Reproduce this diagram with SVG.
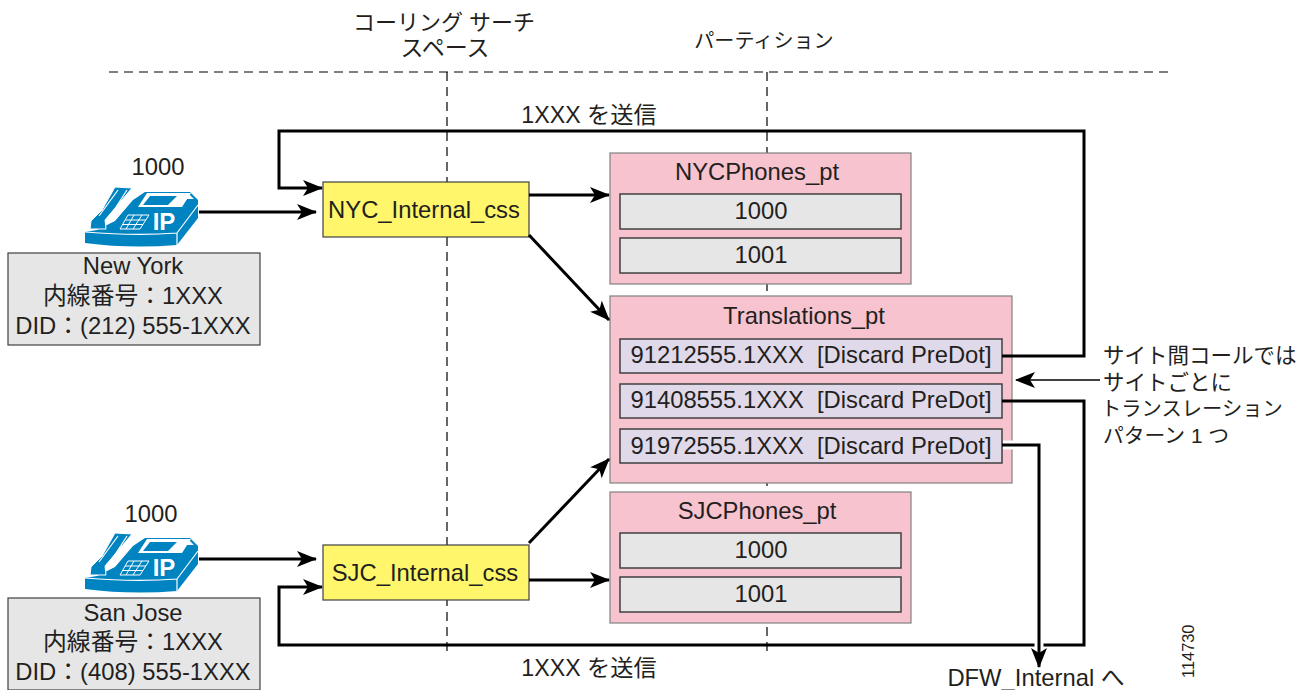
<svg xmlns="http://www.w3.org/2000/svg" width="1307" height="690" viewBox="0 0 1307 690">
<style>
text{font-family:"Liberation Sans","Noto Sans CJK JP",sans-serif;font-size:23.8px;fill:#231f20;text-anchor:middle;white-space:pre}
.l{text-anchor:start}
.pink{fill:#f7c3cf;stroke:#808080;stroke-width:1.2}
.gray{fill:#e6e6e6;stroke:#404040;stroke-width:1.5}
.lav{fill:#e0d9ea;stroke:#404040;stroke-width:1.5}
.yel{fill:#fff66b;stroke:#404040;stroke-width:1.2}
.info{fill:#e6e6e6;stroke:#404040;stroke-width:1.2}
.c{fill:none;stroke:#000;stroke-width:3}
.d{fill:none;stroke:#000;stroke-width:1.2;stroke-dasharray:9 6}
.ph{fill:#0083c1}
.w{fill:none;stroke:#fff;stroke-width:1.2}
</style>
<defs>
<marker id="a" markerUnits="userSpaceOnUse" markerWidth="20" markerHeight="16" refX="19" refY="8" orient="auto"><path d="M0 0L20 8L0 16L5 8Z" fill="#000"/></marker>
<g id="phone">
<path class="ph" d="M0 46V57Q45 63 92 59L113 32V14L105 6H60L48 14L30 35L12 44Z"/>
<path class="ph" d="M30 1L47 2L20 34L21 43H5L6 35L17 24Z" stroke="#fff" stroke-width="1"/>
<path class="w" d="M0 46Q50 50 92 47L113 19M92 47V59"/>
<path class="w" d="M33 4L14 30M42 4L24 32"/>
<path d="M62 7H106L97 21H53Z" fill="#fff"/>
<path d="M65 10H92L83 19H58Z" class="ph"/>
<path d="M48 3L54 10H44ZM104 8L109 13H100Z" fill="#fff"/>
<path d="M35 43L43 29H64L55 43ZM40 34H61M37 38.500H58M49 29L41 43M57 29L48 43" fill="none" stroke="#fff" stroke-width="1"/>
<text x="79" y="44" style="font-size:24px;font-weight:bold;fill:#fff">IP</text>
</g>
</defs>

<g id="guides">
<path class="d" d="M109 72H1170"/>
<path class="d" d="M447 72V652M767 72V652"/>
</g>

<g id="labels">
<text x="444" y="30" style="font-size:22px">コーリング サーチ</text>
<text x="445" y="56" style="font-size:23px">スペース</text>
<text x="764" y="48" style="font-size:20.100px">パーティション</text>
<text x="589" y="123" style="font-size:23.200px">1XXX を送信</text>
<text x="589" y="676" style="font-size:23.200px">1XXX を送信</text>
<text x="1036" y="686">DFW_Internal へ</text>
<text class="l" x="1103" y="363" style="font-size:21.500px">サイト間コールでは</text>
<text class="l" x="1103" y="390" style="font-size:21.500px">サイトごとに</text>
<text class="l" x="1101" y="416" style="font-size:20.300px">トランスレーション</text>
<text class="l" x="1103" y="443" style="font-size:20.800px">パターン 1 つ</text>
<text transform="translate(1194 678) rotate(-90)" class="l" style="font-size:16.400px">114730</text>
</g>

<g id="phone-ny"><use href="#phone" x="85" y="186"/><text x="158" y="175">1000</text></g>
<g id="info-ny">
<rect class="info" x="8" y="253" width="252" height="92"/>
<text x="133" y="274">New York</text>
<text x="133" y="304">内線番号：1XXX</text>
<text x="133" y="334">DID：(212) 555-1XXX</text>
</g>
<g id="phone-sj"><use href="#phone" x="85" y="532"/><text x="151" y="522">1000</text></g>
<g id="info-sj">
<rect class="info" x="8" y="598" width="252" height="92"/>
<text x="133" y="621">San Jose</text>
<text x="133" y="650">内線番号：1XXX</text>
<text x="133" y="680">DID：(408) 555-1XXX</text>
</g>

<g id="nyc-css"><rect class="yel" x="323" y="182" width="206" height="55"/><text x="424" y="218">NYC_Internal_css</text></g>
<g id="sjc-css"><rect class="yel" x="323" y="545" width="206" height="55"/><text x="425" y="581">SJC_Internal_css</text></g>

<g id="nyc-pt">
<rect class="pink" x="610" y="153" width="301" height="131"/>
<text x="757" y="180">NYCPhones_pt</text>
<rect class="gray" x="620" y="194" width="281" height="35"/><text x="761" y="219">1000</text>
<rect class="gray" x="620" y="238" width="281" height="35"/><text x="761" y="263">1001</text>
</g>
<g id="trans-pt">
<rect class="pink" x="610" y="296" width="402" height="187"/>
<text x="804" y="324">Translations_pt</text>
<rect class="lav" x="620" y="339" width="382" height="34"/><text x="811" y="363">91212555.1XXX  [Discard PreDot]</text>
<rect class="lav" x="620" y="384" width="382" height="34"/><text x="811" y="408">91408555.1XXX  [Discard PreDot]</text>
<rect class="lav" x="620" y="429" width="382" height="34"/><text x="811" y="454">91972555.1XXX  [Discard PreDot]</text>
</g>
<g id="sjc-pt">
<rect class="pink" x="610" y="492" width="301" height="131"/>
<text x="757" y="519">SJCPhones_pt</text>
<rect class="gray" x="620" y="533" width="281" height="35"/><text x="761" y="558">1000</text>
<rect class="gray" x="620" y="577" width="281" height="35"/><text x="761" y="602">1001</text>
</g>

<g id="connectors">
<path class="c" d="M199 212H316" marker-end="url(#a)"/>
<path class="c" d="M199 559H316" marker-end="url(#a)"/>
<path class="c" d="M529 195H609" marker-end="url(#a)"/>
<path class="c" d="M529 235L609 320" marker-end="url(#a)"/>
<path class="c" d="M529 543L609 459" marker-end="url(#a)"/>
<path class="c" d="M529 580H609" marker-end="url(#a)"/>
<path class="c" d="M1002 356H1084V131H279V188H322" marker-end="url(#a)"/>
<path class="c" d="M1002 401H1084V645H279V587H322" marker-end="url(#a)"/>
<path d="M1003 445H1039V652" fill="none" stroke="#fff" stroke-width="9"/>
<path class="c" d="M1002 445H1039V667" marker-end="url(#a)"/>
<path d="M1100 380H1016" fill="none" stroke="#000" stroke-width="1.5" marker-end="url(#a)"/>
</g>
</svg>
